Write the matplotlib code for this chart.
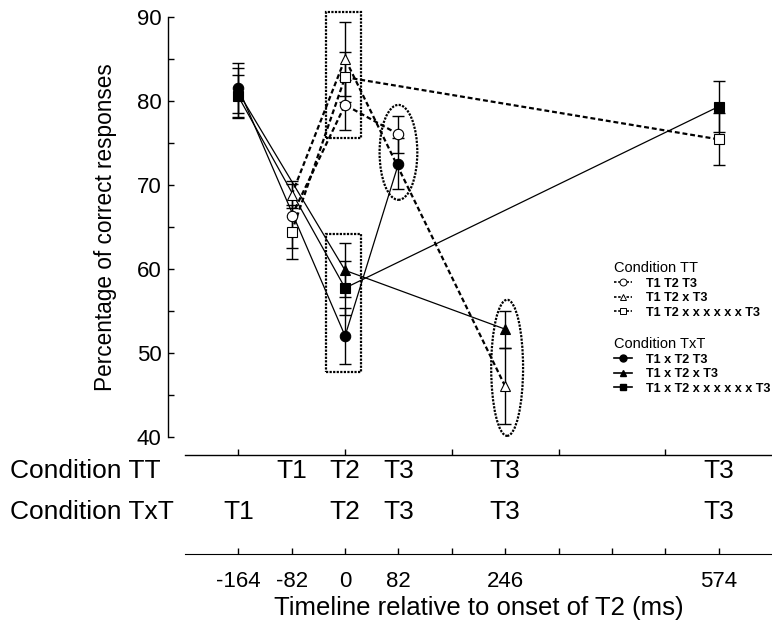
import numpy as np
import matplotlib
matplotlib.use('Agg')
import matplotlib.pyplot as plt
import matplotlib.transforms as mtransforms
from matplotlib.patches import Rectangle, Ellipse
from matplotlib.lines import Line2D

plt.rcParams['font.family'] = ['Liberation Sans', 'DejaVu Sans']

# Condition TT (open markers, dashed lines)
tt_circle_x = [-82, 0, 82]
tt_circle_y = [66.3, 79.5, 76.0]
tt_circle_err = [3.8, 3.0, 2.2]
tt_tri_x = [-82, 0, 246]
tt_tri_y = [68.8, 85.0, 46.0]
tt_tri_err = [1.6, 4.4, 4.5]
tt_sq_x = [-82, 0, 574]
tt_sq_y = [64.4, 82.8, 75.4]
tt_sq_err = [3.2, 3.0, 3.1]

# Condition TxT (filled markers, solid lines)
txt_circle_x = [-164, 0, 82]
txt_circle_y = [81.5, 52.0, 72.5]
txt_circle_err = [3.0, 3.3, 3.0]
txt_tri_x = [-164, 0, 246]
txt_tri_y = [81.0, 59.8, 52.8]
txt_tri_err = [2.9, 3.2, 2.2]
txt_sq_x = [-164, 0, 574]
txt_sq_y = [80.5, 57.7, 79.3]
txt_sq_err = [2.6, 3.2, 3.0]

# timeline labels
tt_row_x = [-82, 0, 82, 246, 574]
tt_row_lab = ['T1', 'T2', 'T3', 'T3', 'T3']
txt_row_x = [-164, 0, 82, 246, 574]
txt_row_lab = ['T1', 'T2', 'T3', 'T3', 'T3']
time_ticks = np.arange(-164, 575, 82)
time_labels = ['-164', '-82', '0', '82', '', '246', '', '', '', '574']

fig = plt.figure(figsize=(7.72, 6.23), dpi=100)
ax = fig.add_axes([185 / 772, 1 - 436.7 / 623, 587 / 772, 420 / 623])

dash = (0, (2.2, 1.3))
series = [
    (tt_circle_x, tt_circle_y, tt_circle_err, 'o', 'white', dash, 1.6),
    (tt_tri_x, tt_tri_y, tt_tri_err, '^', 'white', dash, 1.6),
    (tt_sq_x, tt_sq_y, tt_sq_err, 's', 'white', dash, 1.6),
    (txt_circle_x, txt_circle_y, txt_circle_err, 'o', 'black', '-', 0.9),
    (txt_tri_x, txt_tri_y, txt_tri_err, '^', 'black', '-', 0.9),
    (txt_sq_x, txt_sq_y, txt_sq_err, 's', 'black', '-', 0.9),
]
for x, y, e, m, fc, ls, lw in series:
    ax.plot(x, y, color='black', ls=ls, lw=lw, zorder=2)
    ax.errorbar(x, y, yerr=e, fmt='none', ecolor='black', elinewidth=1.0,
                capsize=4.5, capthick=1.0, zorder=3)
    ax.plot(x, y, ls='none', marker=m, ms=7.5, mfc=fc, mec='black',
            mew=0.8, zorder=4)

# boxes and ellipses around the groups
box_style = dict(fill=False, ec='black', lw=1.6, ls=(0, (1, 0.6)), zorder=1,
                 clip_on=False)
ax.add_patch(Rectangle((-29, 75.6), 54, 14.9, **box_style))
ax.add_patch(Rectangle((-29, 47.7), 54, 16.4, **box_style))
ax.add_patch(Ellipse((82, 73.85), 58, 11.3, **box_style))
ax.add_patch(Ellipse((249, 48.2), 49, 16.2, **box_style))

ax.set_xlim(-246, 656)
ax.set_ylim(40, 90)
ax.set_yticks(np.arange(40, 91, 10))
ax.set_yticks(np.arange(45, 90, 10), minor=True)
ax.set_xticks([-164, 0, 164, 328, 492])
ax.set_xticklabels([])
ax.spines['top'].set_visible(False)
ax.spines['right'].set_visible(False)
ax.spines['left'].set_position(('outward', 12))
ax.spines['bottom'].set_position(('outward', 13))
ax.spines['left'].set_bounds(40, 90)
for s in ['left', 'bottom']:
    ax.spines[s].set_linewidth(1.0)
ax.tick_params(axis='both', which='both', direction='in', length=4, width=1.0)
ax.tick_params(axis='y', labelsize=16, pad=5)
ax.set_ylabel('Percentage of correct responses', fontsize=16.3, labelpad=14)

# legends
lg_font = dict(weight='bold', size=9.1)
tt_handles = [
    Line2D([], [], color='black', ls=(0, (1.5, 1)), lw=1.2, marker=m, ms=5,
           mfc='white', mec='black', mew=0.7)
    for m in ['o', '^', 's']
]
txt_handles = [
    Line2D([], [], color='black', ls='-', lw=1.2, marker=m, ms=5,
           mfc='black', mec='black')
    for m in ['o', '^', 's']
]
leg1 = ax.legend(tt_handles, ['T1 T2 T3', 'T1 T2 x T3', 'T1 T2 x x x x x x T3'],
                 title='Condition TT', loc='upper left', prop=lg_font,
                 bbox_to_anchor=(608 / 772, 1 - 255 / 623),
                 bbox_transform=fig.transFigure, frameon=False,
                 alignment='left', handlelength=1.4, handletextpad=1.1,
                 labelspacing=0.2, borderpad=0, title_fontsize=10.5)
ax.add_artist(leg1)
ax.legend(txt_handles, ['T1 x T2 T3', 'T1 x T2 x T3', 'T1 x T2 x x x x x x T3'],
          title='Condition TxT', loc='upper left', prop=lg_font,
          bbox_to_anchor=(608 / 772, 1 - 331 / 623),
          bbox_transform=fig.transFigure, frameon=False,
          alignment='left', handlelength=1.4, handletextpad=1.1,
          labelspacing=0.2, borderpad=0, title_fontsize=10.5)

# timeline rows under the plot
trans = mtransforms.blended_transform_factory(ax.transData, fig.transFigure)
fig.text(10 / 772, 1 - 471 / 623, 'Condition TT', fontsize=19, va='center')
fig.text(10 / 772, 1 - 512 / 623, 'Condition TxT', fontsize=19, va='center')
for x, lab in zip(tt_row_x, tt_row_lab):
    ax.text(x, 1 - 471 / 623, lab, transform=trans, fontsize=19,
            ha='center', va='center')
for x, lab in zip(txt_row_x, txt_row_lab):
    ax.text(x, 1 - 512 / 623, lab, transform=trans, fontsize=19,
            ha='center', va='center')

# timeline axis
ax2 = fig.add_axes([185 / 772, 1 - 554 / 623, 587 / 772, 0.01])
ax2.set_xlim(-246, 656)
ax2.set_yticks([])
for s in ['top', 'right', 'left']:
    ax2.spines[s].set_visible(False)
ax2.patch.set_visible(False)
ax2.set_xticks(time_ticks)
ax2.set_xticklabels(time_labels)
ax2.tick_params(axis='x', direction='in', length=4, width=1.0, labelsize=16,
                pad=12)
ax2.set_xlabel('Timeline relative to onset of T2 (ms)', fontsize=18.5,
               labelpad=3)

fig.savefig('out.png', dpi=100)
